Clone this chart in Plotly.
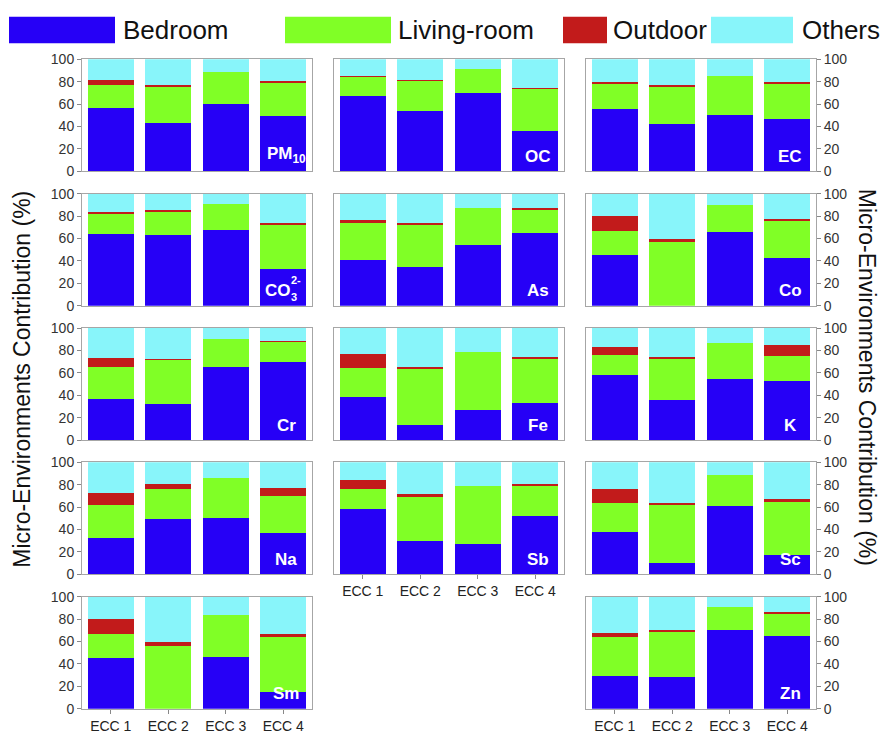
import plotly.graph_objects as go

# ---- data -------------------------------------------------------------
categories = ["ECC 1", "ECC 2", "ECC 3", "ECC 4"]

series_names = ["Bedroom", "Living-room", "Outdoor", "Others"]
series_colors = ["#2600F6", "#80FF26", "#C21B1B", "#88F5FA"]

panel_keys = ["PM10", "OC", "EC", "CO3", "As", "Co", "Cr", "Fe", "K",
              "Na", "Sb", "Sc", "Sm", "Zn"]
# element names: (main text, subscript, superscript)
panel_labels = {
    "PM10": ("PM", "10", ""), "OC": ("OC", "", ""), "EC": ("EC", "", ""),
    "CO3": ("CO", "3", "2-"), "As": ("As", "", ""), "Co": ("Co", "", ""),
    "Cr": ("Cr", "", ""), "Fe": ("Fe", "", ""), "K": ("K", "", ""),
    "Na": ("Na", "", ""), "Sb": ("Sb", "", ""), "Sc": ("Sc", "", ""),
    "Sm": ("Sm", "", ""), "Zn": ("Zn", "", ""),
}

bedroom = {
    "PM10": [57, 43, 60, 49],   "OC": [67.5, 54, 70, 36],     "EC": [55.5, 42, 50.5, 47],
    "CO3": [64, 63, 68, 32.5],  "As": [41, 35, 54, 65],       "Co": [45, 0, 66, 42.5],
    "Cr": [36.5, 32, 65, 70],   "Fe": [38.5, 13.5, 27, 33.5], "K": [58, 36, 54.5, 52.5],
    "Na": [32.5, 49, 50.5, 36.5], "Sb": [58, 29.5, 27, 52.5], "Sc": [37.5, 10, 61, 17],
    "Sm": [45, 0, 46, 15],      "Zn": [29, 28, 70, 65],
}
living_room = {
    "PM10": [20, 32, 29, 30],   "OC": [16.5, 26.5, 21.5, 37.5], "EC": [22.5, 33.5, 35, 31],
    "CO3": [18.5, 21, 23, 40],  "As": [33, 37.5, 33, 20],       "Co": [21.5, 57, 24, 33],
    "Cr": [29, 39.5, 25, 17.5], "Fe": [25.5, 49.5, 52, 38.5],   "K": [18, 36, 32, 22.5],
    "Na": [29.5, 27, 35.5, 33.5], "Sb": [18, 39.5, 52, 26.5],   "Sc": [26, 51.5, 27.5, 48],
    "Sm": [22, 56, 38, 49],     "Zn": [35, 41, 21, 20],
}
outdoor = {
    "PM10": [5, 2.5, 0, 1.5],   "OC": [1.5, 1, 0, 1],       "EC": [2, 1.5, 0, 1.5],
    "CO3": [1.5, 1, 0, 1.5],    "As": [2.5, 1.5, 0, 2],     "Co": [13.5, 2.5, 0, 2],
    "Cr": [8, 1, 0, 1],         "Fe": [13, 2.5, 0, 2.5],    "K": [7.5, 2, 0, 9.5],
    "Na": [11, 5, 0, 7.5],      "Sb": [8, 2.5, 0, 2],       "Sc": [12.5, 2, 0, 2.5],
    "Sm": [13, 4, 0, 3],        "Zn": [4, 1.5, 0, 1],
}
others = {
    "PM10": [18, 22.5, 11, 19.5], "OC": [14.5, 18.5, 8.5, 25.5], "EC": [20, 23, 14.5, 20.5],
    "CO3": [16, 15, 9, 26],       "As": [23.5, 26, 13, 13],      "Co": [20, 40.5, 10, 22.5],
    "Cr": [26.5, 27.5, 10, 11.5], "Fe": [23, 34.5, 21, 25.5],    "K": [16.5, 26, 13.5, 15.5],
    "Na": [27, 19, 14, 22.5],     "Sb": [16, 28.5, 21, 19],      "Sc": [24, 36.5, 11.5, 32.5],
    "Sm": [20, 40, 16, 33],       "Zn": [32, 29.5, 9, 14],
}
y_ticks = [0, 20, 40, 60, 80, 100]

# ---- layout geometry (pixels) ----------------------------------------
W, H = 885, 740
col_px = [(82, 312), (334, 564), (586, 816)]
row_top = [52.5, 189.8, 327.1, 464.4, 601.7]
row_h = 114.5
# (row, col) of each panel
grid = [(0, 0), (0, 1), (0, 2),
        (1, 0), (1, 1), (1, 2),
        (2, 0), (2, 1), (2, 2),
        (3, 0), (3, 1), (3, 2),
        (4, 0), (4, 2)]
x_label_panels = {"Sb", "Sm", "Zn"}

FONT = "Liberation Sans, Arial, sans-serif"
fig = go.Figure()
layout = {}
annotations = []

for i, (key, (r, c)) in enumerate(zip(panel_keys, grid)):
    n = i + 1
    xa = "x" if n == 1 else f"x{n}"
    ya = "y" if n == 1 else f"y{n}"
    series = [bedroom[key], living_room[key], outdoor[key], others[key]]
    for name, color, vals in zip(series_names, series_colors, series):
        fig.add_trace(go.Bar(
            x=categories, y=vals, name=name, xaxis=xa, yaxis=ya,
            marker=dict(color=color, line=dict(width=0)),
            showlegend=False,
        ))
    x0, x1 = col_px[c]
    y0 = row_top[r]
    y1 = y0 + row_h
    show_x = key in x_label_panels
    layout["xaxis" if n == 1 else f"xaxis{n}"] = dict(
        domain=[x0 / W, x1 / W], anchor=ya, type="category",
        range=[-0.5, 3.5], showline=True, mirror=True, linecolor="#a6a6a6",
        linewidth=1, showgrid=False, zeroline=False,
        showticklabels=show_x, ticks="outside" if show_x else "",
        ticklen=4, tickcolor="#888888",
        tickfont=dict(family=FONT, size=14, color="#222222"),
    )
    side = "right" if c == 2 else "left"
    show_y = c != 1
    layout["yaxis" if n == 1 else f"yaxis{n}"] = dict(
        domain=[1 - y1 / H, 1 - y0 / H], anchor=xa, range=[0, 100],
        side=side, tickvals=y_ticks, showticklabels=show_y,
        ticks="outside" if show_y else "", ticklen=4, tickcolor="#888888",
        showline=True, mirror=True, linecolor="#a6a6a6", linewidth=1,
        showgrid=False, zeroline=False,
        tickfont=dict(family=FONT, size=14, color="#333333"),
    )
    # element name, white, over the ECC 4 bar near its base
    main, sub, sup = panel_labels[key]
    label_font = dict(family=FONT, size=17, color="white")
    small_font = dict(family=FONT, size=11, color="white")
    if sup:
        # stacked sub/superscript after the main symbol
        annotations.append(dict(x=categories[3], y=3, xref=xa, yref=ya, xshift=10,
                                xanchor="right", yanchor="bottom", showarrow=False,
                                text=f"<b>{main}</b>", font=label_font))
        annotations.append(dict(x=categories[3], y=0.6, xref=xa, yref=ya, xshift=6,
                                xanchor="left", yanchor="bottom", showarrow=False,
                                text=f"<b>{sub}</b>", font=small_font))
        annotations.append(dict(x=categories[3], y=16, xref=xa, yref=ya, xshift=6,
                                xanchor="left", yanchor="bottom", showarrow=False,
                                text=f"<b>{sup}</b>", font=small_font))
    else:
        text = f"<b>{main}</b>" + (f"<sub><b>{sub}</b></sub>" if sub else "")
        annotations.append(dict(x=categories[3], y=3, xref=xa, yref=ya, xshift=3,
                                xanchor="center", yanchor="bottom", showarrow=False,
                                text=text, font=label_font))

# shared axis titles
title = "Micro-Environments Contribution (%)"
annotations.append(dict(x=22 / W, y=1 - 380 / H, xref="paper", yref="paper",
                        xanchor="center", yanchor="middle",
                        text=title, textangle=-90, showarrow=False,
                        font=dict(family=FONT, size=23, color="#111111")))
annotations.append(dict(x=867 / W, y=1 - 377 / H, xref="paper", yref="paper",
                        xanchor="center", yanchor="middle",
                        text=title, textangle=90, showarrow=False,
                        font=dict(family=FONT, size=23, color="#111111")))

# legend drawn as colour swatches with labels across the top
legend_boxes = [(9, 115), (285, 391), (563, 607), (711, 793)]
legend_text_x = [121, 396, 611, 800]
shapes = []
for (bx0, bx1), tx, name, color in zip(legend_boxes, legend_text_x,
                                       series_names, series_colors):
    shapes.append(dict(type="rect", xref="paper", yref="paper",
                       x0=bx0 / W, x1=bx1 / W, y0=1 - 36 / H, y1=1 - 9 / H,
                       fillcolor=color, line=dict(width=0)))
    annotations.append(dict(x=tx / W, y=1 - 22.5 / H, xref="paper", yref="paper",
                            xanchor="left", yanchor="middle", showarrow=False,
                            text=name, font=dict(family=FONT, size=26, color="#111111")))

fig.update_layout(
    width=W, height=H, margin=dict(l=0, r=0, t=0, b=0),
    paper_bgcolor="white", plot_bgcolor="white",
    barmode="stack", bargap=0.2, showlegend=False,
    annotations=annotations, shapes=shapes,
    **layout,
)

fig.write_html("out.html")
